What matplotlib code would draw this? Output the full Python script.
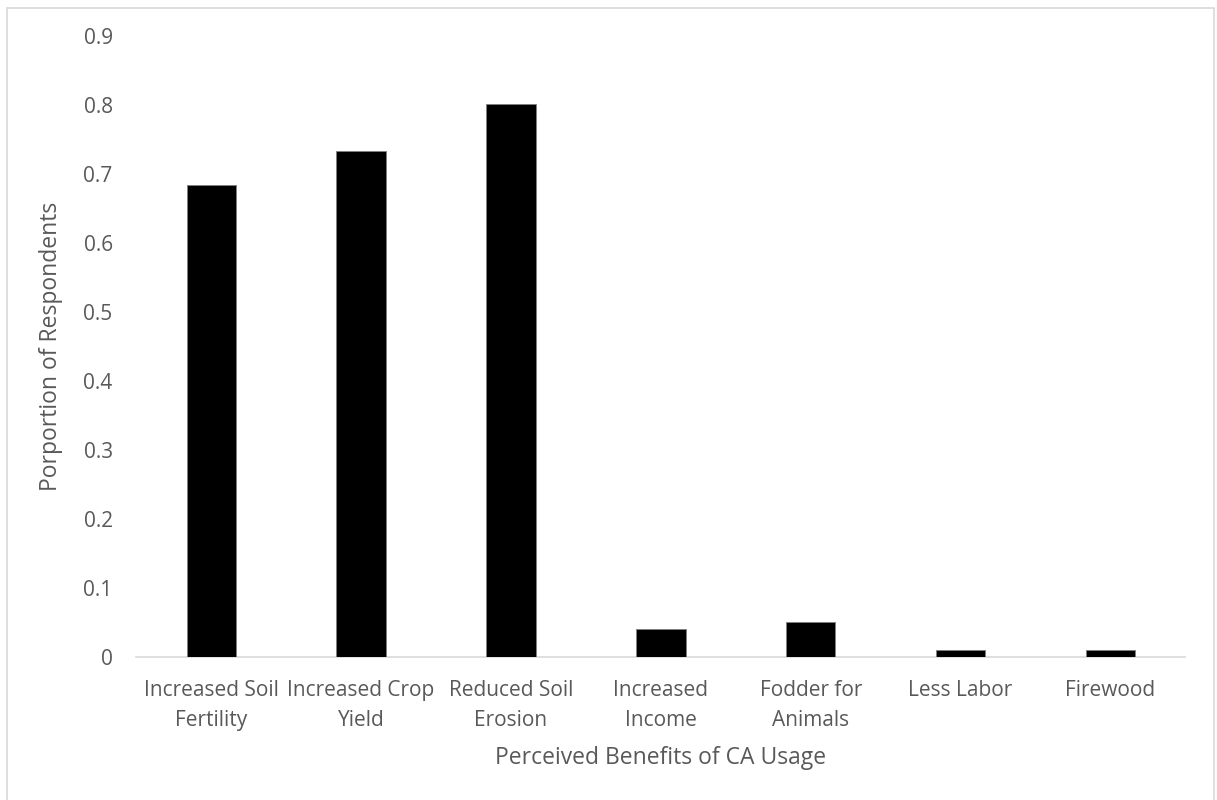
import matplotlib.pyplot as plt
from matplotlib.patches import Rectangle

categories = ["Increased Soil\nFertility", "Increased Crop\nYield", "Reduced Soil\nErosion",
              "Increased\nIncome", "Fodder for\nAnimals", "Less Labor", "Firewood"]
values = [0.684, 0.733, 0.802, 0.04, 0.05, 0.01, 0.01]
yticks = [0, 0.1, 0.2, 0.3, 0.4, 0.5, 0.6, 0.7, 0.8, 0.9]
ytick_labels = ["0", "0.1", "0.2", "0.3", "0.4", "0.5", "0.6", "0.7", "0.8", "0.9"]

plt.rcParams['font.family'] = ['Open Sans', 'DejaVu Sans']
grey = '#595959'

fig = plt.figure(figsize=(12.17, 8), dpi=100)
ax = fig.add_axes([0.112, 0.179, 0.862, 0.776])

x = range(len(categories))
ax.bar(x, values, width=0.33, color='black', edgecolor='#7f7f7f', linewidth=0.6, zorder=3)

ax.set_xlim(-0.5, len(categories) - 0.5)
ax.set_ylim(0, 0.9)
ax.set_yticks(yticks)
ax.set_yticklabels(ytick_labels)
ax.set_xticks(list(x))
ax.set_xticklabels(categories, linespacing=1.55)
ax.tick_params(axis='both', length=0, labelsize=15, labelcolor=grey)
ax.tick_params(axis='y', pad=17)
ax.tick_params(axis='x', pad=16.5)

for s in ['top', 'right', 'left']:
    ax.spines[s].set_visible(False)
ax.spines['bottom'].set_color('#d9d9d9')
ax.spines['bottom'].set_linewidth(1.2)

ax.set_ylabel("Porportion of Respondents", fontsize=16.5, color=grey, labelpad=15)
ax.set_xlabel("Perceived Benefits of CA Usage", fontsize=16.5, color=grey, labelpad=11)

fig.patches.append(Rectangle((7 / 1217, -0.05), 1207 / 1217, 1.05 - 8 / 800,
                             transform=fig.transFigure, fill=False,
                             edgecolor='#d9d9d9', linewidth=1.2))

fig.savefig('out.png', dpi=100)
